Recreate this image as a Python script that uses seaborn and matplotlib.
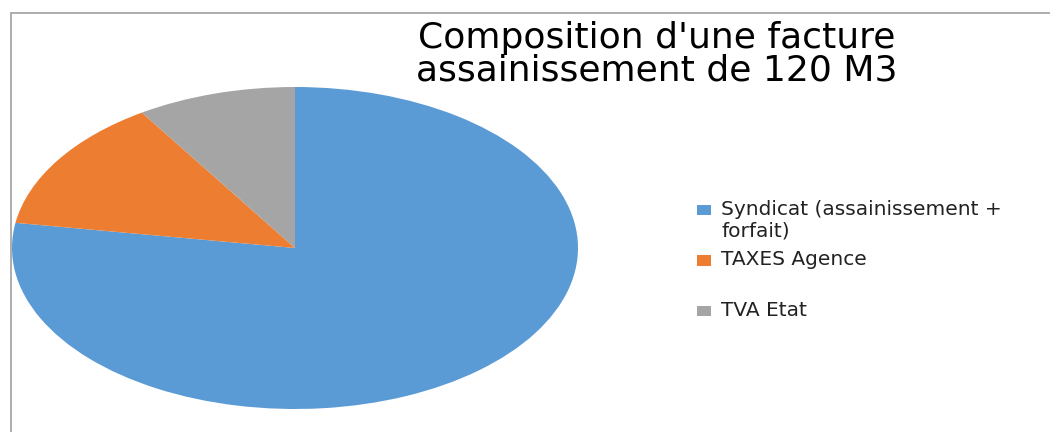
import matplotlib
matplotlib.use("Agg")
import matplotlib.pyplot as plt
import seaborn as sns
from matplotlib.patches import Rectangle

# Data
categories = ["Syndicat (assainissement +\nforfait)", "TAXES Agence\n", "TVA Etat\n"]
values = [77.5, 13.4, 9.1]
colors = ["#5B9BD5", "#ED7D31", "#A5A5A5"]
title = "Composition d'une facture\nassainissement de 120 M3"

sns.set_style("white")
plt.rcParams['font.family'] = ['DejaVu Sans']

W, H = 1050, 432
fig = plt.figure(figsize=(W / 100, H / 100), dpi=100)

# pie axes (ellipse: stretched horizontally)
px_l, px_r, px_t, px_b = 12, 578, 87, 409
ax = fig.add_axes([px_l / W, 1 - px_b / H, (px_r - px_l) / W, (px_b - px_t) / H])
wedges, _ = ax.pie(values, colors=colors, startangle=90, counterclock=False,
                   wedgeprops=dict(linewidth=0))
ax.set_aspect('auto')
ax.set_xlim(-1, 1)
ax.set_ylim(-1, 1)
ax.axis('off')

# chart frame
fig.patches.append(Rectangle((10.5 / W, -0.2), 1.5, 1.2 - 13 / H,
                             transform=fig.transFigure, fill=False,
                             edgecolor="#a0a0a0", linewidth=1.2, zorder=0))

# title
fig.text(657 / W, 1 - 54 / H, title, ha='center', va='center',
         fontsize=26, color='#000000', linespacing=0.93)

# legend
leg = fig.legend(wedges, categories, loc='upper left',
                 bbox_to_anchor=(697 / W, 1 - 200 / H),
                 frameon=False, fontsize=14.5, handlelength=0.7,
                 handleheight=0.4, handletextpad=0.5, labelspacing=0.5,
                 borderpad=0, borderaxespad=0)
for t in leg.get_texts():
    t.set_linespacing(1.15)
    t.set_color('#222222')
for h in leg.legend_handles:
    h.set_y(h.get_y() + 7.4)

fig.savefig("out.png", dpi=100)
